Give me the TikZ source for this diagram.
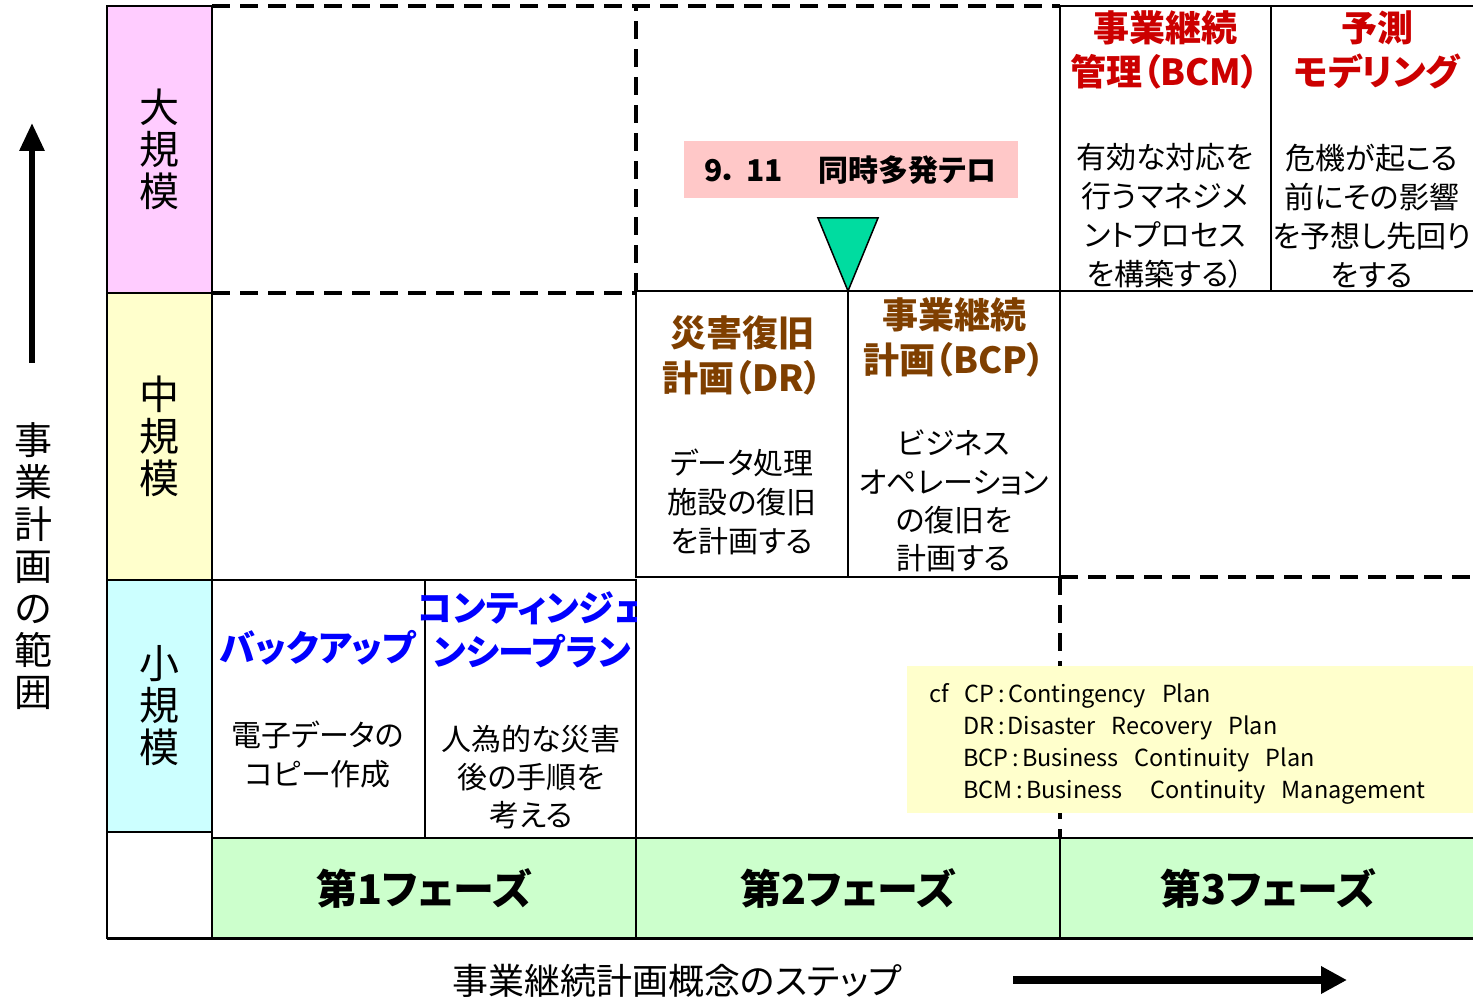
\documentclass[tikz,border=0pt]{standalone}
\usepackage{fontspec}
\setmainfont{Noto Sans CJK JP}[RawFeature=+palt]
\usetikzlibrary{arrows.meta}
\definecolor{cLarge}{HTML}{FFCCFF}
\definecolor{cMid}{HTML}{FFFFCC}
\definecolor{cSmall}{HTML}{CCFFFF}
\definecolor{cPhase}{HTML}{CCFFCC}
\definecolor{cNine}{HTML}{FFC8C8}
\definecolor{cTri}{HTML}{00DCA0}
\definecolor{cRed}{HTML}{CC0000}
\definecolor{cBrown}{HTML}{7F3F00}
\definecolor{cBlue}{HTML}{0000FF}
\definecolor{cNote}{HTML}{FFFFCC}
\begin{document}
\begin{tikzpicture}[x=1pt,y=-1pt,
  box/.style={draw, line width=1.6pt, anchor=north west, inner sep=0pt, outer sep=0pt},
  dashline/.style={line width=3.5pt, dash pattern=on 18pt off 10pt},
  vlabel/.style={align=center, font=\fontsize{40}{42}\selectfont},
  redtitle/.style={align=center, text=cRed, font=\bfseries\fontsize{36}{44}\selectfont},
  browntitle/.style={align=center, text=cBrown, font=\bfseries\fontsize{36}{45}\selectfont},
  bluetitle/.style={align=center, text=cBlue, font=\bfseries\fontsize{36}{44}\selectfont},
  body/.style={align=center, font=\fontsize{30}{39}\selectfont},
  phase/.style={font=\bfseries\fontsize{41}{44}\selectfont},
  note/.style={anchor=west, inner sep=0pt, font=\fontsize{23.5}{32}\selectfont},
  bigarrow/.style={-{Triangle[length=28pt,width=24pt]}}
]
\useasboundingbox (0,0) rectangle (1473,1000);
% left scale cells
\node[box, fill=cLarge, minimum width=105, minimum height=287] (large) at (107,6) {};
\node[box, fill=cMid, minimum width=105, minimum height=287] (mid) at (107,293) {};
\node[box, fill=cSmall, minimum width=105, minimum height=252] (small) at (107,580) {};
\node[box, minimum width=105, minimum height=106] (corner) at (107,832) {};
\node[vlabel] (largeT) at (large.center) {大\\規\\模};
\node[vlabel] (midT) at (mid.center) {中\\規\\模};
\node[vlabel] (smallT) at (small.center) {小\\規\\模};
% phases
\node[box, fill=cPhase, minimum width=424, minimum height=100] (ph1) at (212,838) {};
\node[box, fill=cPhase, minimum width=424, minimum height=100] (ph2) at (636,838) {};
\node[box, fill=cPhase, minimum width=416, minimum height=100] (ph3) at (1060,838) {};
\node[phase] (ph1T) at (ph1.center) {第1フェーズ};
\node[phase] (ph2T) at (ph2.center) {第2フェーズ};
\node[phase] (ph3T) at (ph3.center) {第3フェーズ};
\draw[line width=3pt] (corner.south west) -- (ph3.south east);
% small-scale cells
\node[box, minimum width=213, minimum height=258] (bk) at (212,580) {};
\node[box, minimum width=211, minimum height=258] (cp) at (425,580) {};
% mid-scale cells
\node[box, minimum width=212, minimum height=286] (dr) at (636,291) {};
\node[box, minimum width=212, minimum height=286] (bcp) at (848,291) {};
% large-scale cells
\node[box, minimum width=211, minimum height=285] (bcm) at (1060,6) {};
\node[box, minimum width=205, minimum height=285] (pred) at (1271,6) {};
% dashed lines
\draw[dashline] (large.north east) -- (bcm.north west);
\draw[dashline] (dr.north west) -- (dr.north west |- bcm.north);
\draw[dashline] (large.south east) -- (large.south east -| dr.west);
\draw[dashline] (bcp.south east) -- (bcp.south east -| pred.east);
\draw[dashline] (bcp.south east) -- (ph3.north west);
% texts in cells
\node[redtitle] (bcmT) at (1165,50) {事業継続\\管理（BCM）};
\node[redtitle] (predT) at (1377,50) {予測\\モデリング};
\node[body] (bcmB) at (1165,216) {有効な対応を\\行うマネジメ\\ントプロセス\\を構築する）};
\node[body] (predB) at (1372,216) {危機が起こる\\前にその影響\\を予想し先回り\\をする};
\node[browntitle] (drT) at (742,355) {災害復旧\\計画（DR）};
\node[body] (drB) at (742,502) {データ処理\\施設の復旧\\を計画する};
\node[browntitle] (bcpT) at (954,337) {事業継続\\計画（BCP）};
\node[body, font=\fontsize{30}{38.3}\selectfont] (bcpB) at (954,501) {ビジネス\\オペレーション\\の復旧を\\計画する};
\node[bluetitle] (bkT) at (318,648) {バックアップ};
\node[body] (bkB) at (318,755) {電子データの\\コピー作成};
\begin{scope}
\clip (cp.north west) ++(-20,0) rectangle (cp.south east);
\node[bluetitle] (cpT) at (532,630) {コンティンジェ\\ンシープラン};
\end{scope}
\node[body, font=\fontsize{30}{38}\selectfont] (cpB) at (531,777) {人為的な災害\\後の手順を\\考える};
% 9.11 event
\node[fill=cNine, minimum width=334, minimum height=57, inner sep=0pt, font=\bfseries\fontsize{30}{34}\selectfont] (event) at (851,170) {9．\hspace{8pt}11\hspace{6pt}　同時多発テロ};
\coordinate (tip) at (dr.north east);
\filldraw[fill=cTri, draw=black, line width=1.5pt] (818,218) -- (878,218) -- (tip) -- cycle;
% note box
\node[anchor=north west, fill=cNote, minimum width=570, minimum height=147, inner sep=0pt] (notebox) at (907,666) {};
\node[note] (n1) at (929,696) {cf\hspace{16pt}CP\hspace{4pt}:\hspace{3pt}Contingency\hspace{16pt}Plan};
\node[note] (n2) at (963,728) {DR\hspace{4pt}:\hspace{3pt}Disaster\hspace{16pt}Recovery\hspace{16pt}Plan};
\node[note] (n3) at (963,760) {BCP\hspace{4pt}:\hspace{3pt}Business\hspace{16pt}Continuity\hspace{16pt}Plan};
\node[note] (n4) at (963,792) {BCM\hspace{4pt}:\hspace{3pt}Business\hspace{28pt}Continuity\hspace{16pt}Management};
% axes
\node[align=center, font=\fontsize{38}{42}\selectfont] (yaxis) at (33,566) {事\\業\\計\\画\\の\\範\\囲};
\coordinate (ya0) at (32,363);
\coordinate (ya1) at (32,123);
\draw[line width=6pt, bigarrow] (ya0) -- (ya1);
\node[font=\fontsize{36}{40}\selectfont] (xaxis) at (677,981) {事業継続計画概念のステップ};
\coordinate (xa0) at (1013,980);
\coordinate (xa1) at (1347,980);
\draw[line width=8pt, -{Triangle[length=26pt,width=26pt]}] (xa0) -- (xa1);
\end{tikzpicture}
\end{document}
